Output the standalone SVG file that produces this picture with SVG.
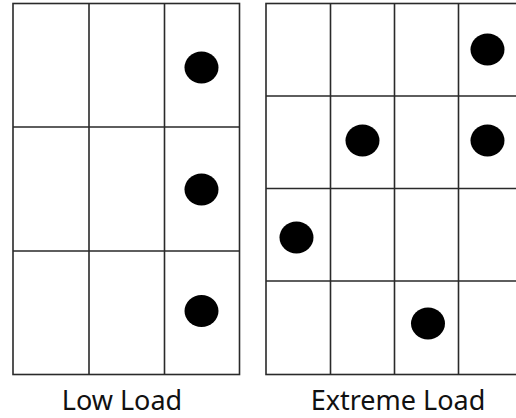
<svg xmlns="http://www.w3.org/2000/svg" width="516" height="418" viewBox="0 0 516 418">
  <style>
    .grid { fill: none; stroke: #2a2a2a; stroke-width: 1.6; }
    .dot { fill: #000; }
    .label { font-family: "Noto Sans", "Open Sans", sans-serif; font-size: 27px; fill: #111; text-anchor: middle; }
  </style>
  <rect width="516" height="418" fill="#fff"/>
  <g id="low-load">
    <rect class="grid" x="13" y="3.5" width="226.5" height="371"/>
    <path class="grid" d="M89 3.5V374.5M164.5 3.5V374.5M13 127H239.5M13 251H239.5"/>
    <ellipse class="dot" cx="201.5" cy="67.5" rx="17" ry="16"/>
    <ellipse class="dot" cx="201.5" cy="189.5" rx="17" ry="16"/>
    <ellipse class="dot" cx="201.5" cy="311" rx="17" ry="16"/>
    <text class="label" x="122" y="410">Low Load</text>
  </g>
  <g id="extreme-load">
    <rect class="grid" x="266" y="3.5" width="257" height="371"/>
    <path class="grid" d="M330.5 3.5V374.5M394.5 3.5V374.5M458.5 3.5V374.5M266 96H523M266 188.5H523M266 281H523"/>
    <ellipse class="dot" cx="487.5" cy="49.5" rx="17" ry="16"/>
    <ellipse class="dot" cx="362.5" cy="140.5" rx="17" ry="16"/>
    <ellipse class="dot" cx="487.5" cy="140.5" rx="17" ry="16"/>
    <ellipse class="dot" cx="296.5" cy="237.5" rx="17" ry="16"/>
    <ellipse class="dot" cx="428" cy="323.5" rx="17" ry="16"/>
    <text class="label" x="398" y="410">Extreme Load</text>
  </g>
  <g id="connectors"/>
</svg>
